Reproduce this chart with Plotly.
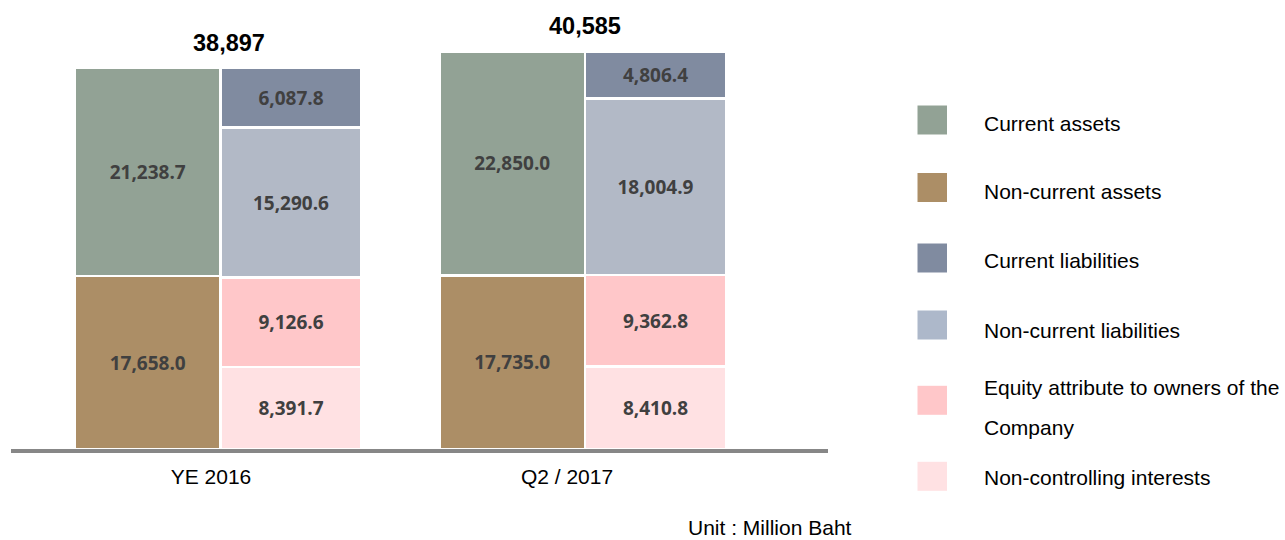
import plotly.graph_objects as go

# ---------------- data ----------------
periods = ["YE 2016", "Q2 / 2017"]
totals = [38897, 40585]
current_assets = [21238.7, 22850.0]
noncurrent_assets = [17658.0, 17735.0]
current_liabilities = [6087.8, 4806.4]
noncurrent_liabilities = [15290.6, 18004.9]
equity_owners = [9126.6, 9362.8]
noncontrolling = [8391.7, 8410.8]

legend_labels = ["Current assets", "Non-current assets", "Current liabilities",
                 "Non-current liabilities", "Equity attribute to owners of the<br>Company",
                 "Non-controlling interests"]
unit_text = "Unit : Million Baht"

# ---------------- styles ----------------
C_CA = "#92A295"
C_NCA = "#AC8E66"
C_CL = "#808BA0"
C_NCL = "#B2B9C6"
C_EQ = "#FFC7C9"
C_NCI = "#FFE1E3"
legend_colors = [C_CA, C_NCA, C_CL, "#ADB8CA", C_EQ, C_NCI]

W, H = 1285, 540
ML, MR, MT, MB = 11, 457, 10, 91
PW, PH = W - ML - MR, H - MT - MB
PX_PER_GROUP = 364.5
GROUP0_PX = 219.4
XR = [(ML - GROUP0_PX) / PX_PER_GROUP, (ML + PW - GROUP0_PX) / PX_PER_GROUP]
YMAX = 44819

def px_to_paper_x(px):
    return (px - ML) / PW

def py_to_paper_y(py):
    return (MT + PH - py) / PH

AX = "Liberation Sans, Arial, sans-serif"
LBL_FONT = dict(family="Open Sans, sans-serif", size=19, color="#404040", weight="bold")

groups = list(range(len(periods)))
x_assets = [g - 0.1965 for g in groups]
x_liab = [g + 0.1965 for g in groups]
w_assets = 0.398
w_liab = 0.386

fig = go.Figure()

def add_bar(x, vals, color, width):
    fig.add_trace(go.Bar(
        x=x, y=vals, width=width,
        marker=dict(color=color, line=dict(color="white", width=2.5)),
        text=[f"{v:,.1f}" for v in vals], textposition="inside",
        insidetextanchor="middle", textangle=0, constraintext="none",
        textfont=LBL_FONT, showlegend=False, hoverinfo="skip",
    ))

add_bar(x_assets, noncurrent_assets, C_NCA, w_assets)
add_bar(x_assets, current_assets, C_CA, w_assets)
add_bar(x_liab, noncontrolling, C_NCI, w_liab)
add_bar(x_liab, equity_owners, C_EQ, w_liab)
add_bar(x_liab, noncurrent_liabilities, C_NCL, w_liab)
add_bar(x_liab, current_liabilities, C_CL, w_liab)

# totals above bars
total_xshift = [10, 1]
for g, t, xs in zip(groups, totals, total_xshift):
    fig.add_annotation(x=g, y=t, text=f"{t:,}", showarrow=False,
                       xanchor="center", yanchor="middle", yshift=25.5, xshift=xs,
                       font=dict(family=AX, size=23.5, color="#000000", weight="bold"))

# custom legend
sq_centers = [120, 187.5, 258, 325, 400.3, 476.3]
txt_centers = [124, 191, 260.5, 330.5, 387.5, 477.5]
LINE_GAP = 40
for lab, col, sc, tc in zip(legend_labels, legend_colors, sq_centers, txt_centers):
    fig.add_shape(type="rect", xref="paper", yref="paper",
                  x0=px_to_paper_x(917.5), x1=px_to_paper_x(947),
                  y0=py_to_paper_y(sc + 14.5), y1=py_to_paper_y(sc - 14.5),
                  fillcolor=col, line=dict(width=0))
    for i, line in enumerate(lab.split("<br>")):
        fig.add_annotation(xref="paper", yref="paper",
                           x=px_to_paper_x(984), y=py_to_paper_y(tc + i * LINE_GAP),
                           text=line, showarrow=False, xanchor="left", yanchor="middle",
                           xshift=-2, font=dict(family=AX, size=21, color="#000000"))

fig.add_annotation(xref="paper", yref="paper", x=px_to_paper_x(769.5), y=py_to_paper_y(527),
                   text=unit_text, showarrow=False, xanchor="center", yanchor="middle",
                   borderpad=0, borderwidth=0,
                   font=dict(family=AX, size=21, color="#000000"))

tick_pos = [(211 - GROUP0_PX) / PX_PER_GROUP, (567 - GROUP0_PX) / PX_PER_GROUP]

fig.update_layout(
    width=W, height=H, barmode="stack",
    margin=dict(l=ML, r=MR, t=MT, b=MB, pad=0),
    paper_bgcolor="white", plot_bgcolor="white",
    xaxis=dict(range=XR, tickvals=tick_pos, ticktext=periods, showgrid=False,
               zeroline=False, showline=True, linecolor="#878787", linewidth=4,
               ticks="", tickfont=dict(family=AX, size=21, color="#000000"),
               ticklabelstandoff=6),
    yaxis=dict(range=[0, YMAX], visible=False, showgrid=False, zeroline=False),
)

fig.write_html("out.html")
